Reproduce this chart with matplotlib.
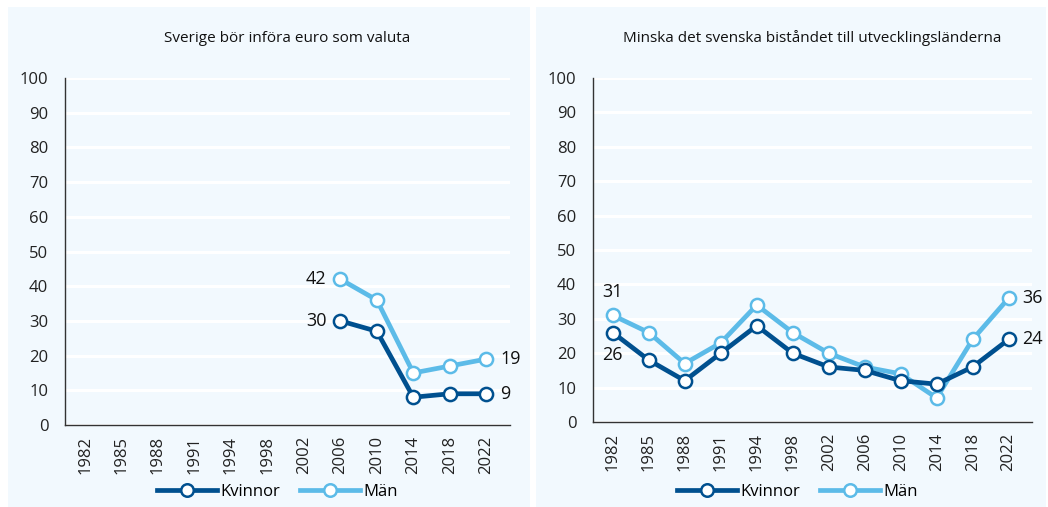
import numpy as np
import matplotlib.pyplot as plt
from matplotlib.patches import Rectangle
from matplotlib.lines import Line2D

years = ['1982', '1985', '1988', '1991', '1994', '1998', '2002', '2006', '2010', '2014', '2018', '2022']

# Sverige bör införa euro som valuta (2006-2022)
euro_kvinnor = [None] * 7 + [30, 27, 8, 9, 9]
euro_man = [None] * 7 + [42, 36, 15, 17, 19]

# Minska det svenska biståndet
bistand_kvinnor = [26, 18, 12, 20, 28, 20, 16, 15, 12, 11, 16, 24]
bistand_man = [31, 26, 17, 23, 34, 26, 20, 16, 14, 7, 24, 36]

dark = '#00508f'
light = '#5cbbe8'
bg = '#f2f9fe'

plt.rcParams['font.family'] = ['Open Sans', 'DejaVu Sans']

fig = plt.figure(figsize=(10.48, 5.07), dpi=100)
W, H = 1048, 507

def px(x0, y0, x1, y1):
    return [x0 / W, 1 - y1 / H, (x1 - x0) / W, (y1 - y0) / H]

# panel backgrounds
for x0, x1 in [(8, 530), (536, 1046)]:
    fig.patches.append(Rectangle((x0 / W, 0), (x1 - x0) / W, 1 - 7 / H,
                                 transform=fig.transFigure, facecolor=bg,
                                 edgecolor='none', zorder=-5))

def panel(rect, title, kv, mn, labels, legend_x):
    ax = fig.add_axes(rect)
    ax.set_facecolor(bg)
    x = np.arange(len(years))
    kv_a = np.array([np.nan if v is None else v for v in kv], dtype=float)
    mn_a = np.array([np.nan if v is None else v for v in mn], dtype=float)
    ax.plot(x, mn_a, color=light, lw=3.4, marker='o', ms=9.5, mfc='white',
            mec=light, mew=1.8, zorder=3)
    ax.plot(x, kv_a, color=dark, lw=3.4, marker='o', ms=9.5, mfc='white',
            mec=dark, mew=1.8, zorder=4)
    ax.set_ylim(0, 100)
    ax.set_xlim(-0.55, 11.65)
    ax.set_yticks(range(0, 101, 10))
    ax.set_xticks(x)
    ax.set_xticklabels(years, rotation=90)
    ax.tick_params(length=0, labelsize=12, colors='#222222')
    ax.tick_params(axis='y', pad=12)
    ax.tick_params(axis='x', pad=8)
    ax.grid(axis='y', color='white', lw=2.2, zorder=0)
    ax.set_axisbelow(True)
    for s in ['top', 'right']:
        ax.spines[s].set_visible(False)
    ax.spines['left'].set_color('#333333')
    ax.spines['bottom'].set_color('#333333')
    ax.spines['left'].set_linewidth(1)
    ax.spines['bottom'].set_linewidth(1)
    ax.set_title(title, fontsize=11, pad=26, color='#111111')
    for (xi, yi, txt, dx, dy, ha, va) in labels:
        ax.annotate(txt, (xi, yi), xytext=(dx, dy), textcoords='offset points',
                    ha=ha, va=va, fontsize=13, color='#111111')
    handles = [Line2D([], [], color=dark, lw=3.4, marker='o', ms=9, mfc='white',
                      mec=dark, mew=1.8),
               Line2D([], [], color=light, lw=3.4, marker='o', ms=9, mfc='white',
                      mec=light, mew=1.8)]
    fig.legend(handles, ['Kvinnor', 'Män'], loc='center', ncol=2,
               bbox_to_anchor=(legend_x / W, 1 - 492 / H), frameon=False,
               fontsize=12, handlelength=3.6, columnspacing=1.2, handletextpad=0.2)
    return ax

panel(px(65, 78, 510, 425), 'Sverige bör införa euro som valuta',
      euro_kvinnor, euro_man,
      [(7, 42, '42', -10, 0, 'right', 'center'),
       (7, 30, '30', -10, 0, 'right', 'center'),
       (11, 19, '19', 10, 0, 'left', 'center'),
       (11, 9, '9', 10, 0, 'left', 'center')], 277)

panel(px(593, 78, 1032, 422), 'Minska det svenska biståndet till utvecklingsländerna',
      bistand_kvinnor, bistand_man,
      [(0, 31, '31', 0, 10, 'center', 'bottom'),
       (0, 26, '26', 0, -10, 'center', 'top'),
       (11, 36, '36', 10, 0, 'left', 'center'),
       (11, 24, '24', 10, 0, 'left', 'center')], 797)

fig.savefig('out.png', dpi=100, facecolor='white')
